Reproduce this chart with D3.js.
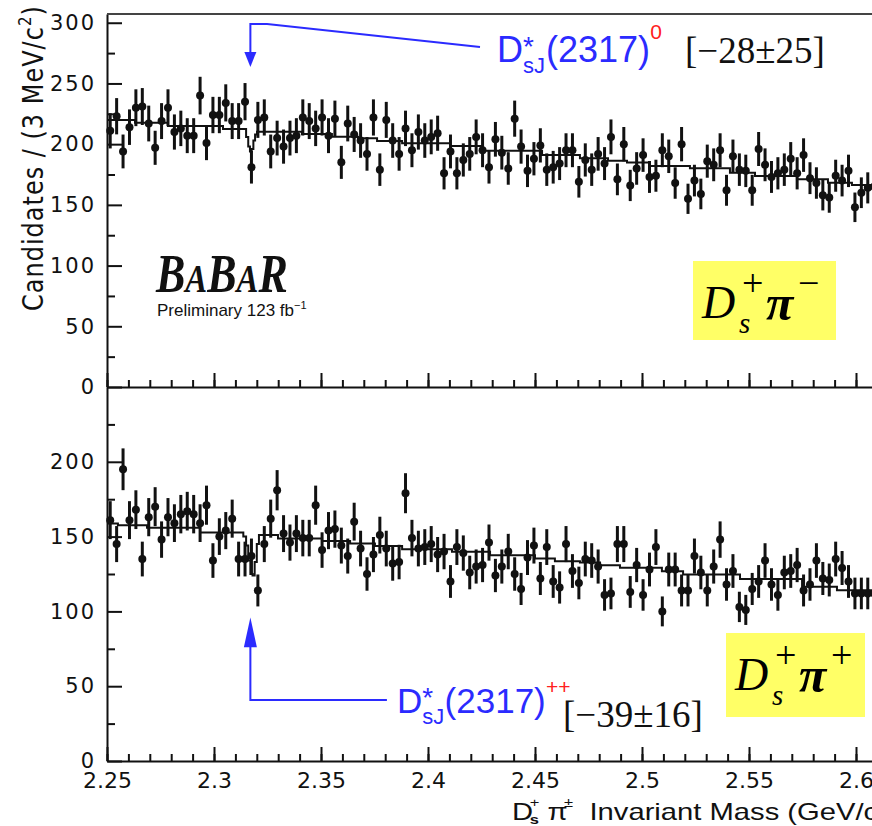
<!DOCTYPE html>
<html>
<head>
<meta charset="utf-8">
<script src="https://cdn.jsdelivr.net/npm/d3@7"></script>
<style>
  body { margin: 0; background: #fff; }
  svg { display: block; }
</style>
</head>
<body>
<svg id="chart" width="872" height="826"></svg>
<script>
// ---- data (3 MeV bins from 2.25 GeV) ----
const binLo = 2.25, binWidth = 0.003;

const topCounts = [
  211, 223, 194, 214, 230, 231, 217, 197, 219, 230,
  210, 213, 207, 207, 240, 201, 224, 224, 234, 219,
  219, 235, 181, 220, 222, 194, 205, 198, 205, 207,
  222, 219, 213, 222, 207, 221, 185, 217, 208, 203,
  192, 222, 179, 220, 203, 192, 213, 195, 210, 203,
  206, 209, 176, 194, 176, 187, 192, 206, 195, 181,
  204, 193, 180, 221, 198, 178, 188, 199, 179, 181,
  184, 195, 195, 169, 187, 179, 192, 184, 206, 171,
  200, 166, 180, 191, 173, 174, 195, 190, 168, 200,
  155, 170, 159, 186, 183, 195, 162, 190, 179, 178,
  162, 196, 183, 173, 176, 179, 188, 176, 191, 172,
  168, 158, 156, 174, 170, 178, 148, 160, 164, 165
];

const bottomCounts = [
  161, 145, 195, 161, 168, 135, 163, 170, 148, 163,
  159, 165, 167, 165, 159, 171, 134, 150, 154, 162,
  135, 135, 137, 114, 145, 162, 181, 152, 146, 152,
  149, 149, 171, 141, 154, 155, 144, 137, 160, 142,
  125, 138, 151, 142, 132, 133, 179, 149, 142, 143,
  145, 138, 140, 120, 143, 139, 126, 130, 131, 146,
  124, 130, 140, 125, 115, 136, 144, 122, 143, 120,
  116, 145, 127, 119, 135, 134, 130, 111, 112, 145,
  145, 113, 131, 111, 128, 143, 100, 128, 128, 114,
  114, 137, 126, 114, 130, 148, 118, 127, 103, 101,
  115, 120, 134, 118, 111, 126, 127, 131, 114, 118,
  134, 122, 121, 135, 129, 120, 112, 112, 112, 112
];

// fitted curve (drawn as steps, as in the original)
const topFitX = [2.25, 2.2631, 2.2785, 2.3042, 2.3150, 2.3160, 2.3168, 2.3176, 2.3184, 2.3192,
  2.3201, 2.3411, 2.3551, 2.3673, 2.3762, 2.3879, 2.4103, 2.4257, 2.4533, 2.4710,
  2.4841, 2.4930, 2.5037, 2.5224, 2.5411, 2.5528, 2.5724, 2.5869, 2.5981, 2.61];
const topFitY = [220, 217.7, 215, 212.5, 206, 198, 194, 196, 203, 208,
  210.3, 208.4, 206.2, 204.8, 202.6, 200.7, 198.5, 194.6, 191.1, 188.4,
  186.4, 184.8, 182, 180.1, 176.5, 173.8, 171.1, 168.3, 166.4, 166.4];

const botFitX = [2.25, 2.2551, 2.2687, 2.2935, 2.3137, 2.3150, 2.3160, 2.3170, 2.3180, 2.3190,
  2.3200, 2.3210, 2.3299, 2.3505, 2.3636, 2.3752, 2.3879, 2.4112, 2.4290, 2.4500,
  2.4593, 2.4710, 2.4804, 2.4897, 2.5093, 2.5192, 2.5458, 2.5748, 2.5911, 2.61];
const botFitY = [158.8, 157.6, 155.9, 152.7, 150, 144, 134, 125, 124, 133,
  145, 151, 148.8, 147, 145.4, 143.8, 141.6, 139.8, 137.6, 135.4,
  133.6, 132.7, 130.9, 129.1, 126.9, 124.7, 121.6, 116.4, 114.2, 114.2];

// ticks
const xMajor = [2.25, 2.3, 2.35, 2.4, 2.45, 2.5, 2.55, 2.6];
const xTickLabels = ["2.25", "2.3", "2.35", "2.4", "2.45", "2.5", "2.55", "2.6"];
const xMinor = d3.range(0, 37).map(i => 2.25 + i * 0.01);
const topYMajor = [0, 50, 100, 150, 200, 250, 300];
const topYMinor = [25, 75, 125, 175, 225, 275];
const botYMajor = [0, 50, 100, 150, 200];
const botYMinor = [25, 75, 125, 175, 225];

// ---- drawing ----
const svg = d3.select("#chart");
const blue = "#2b2bff", red = "#ff2020";

const x = d3.scaleLinear().domain([2.25, 2.61]).range([107, 877.4]);
const yTop = d3.scaleLinear().domain([0, 307.2]).range([387, 14]);
const yBot = d3.scaleLinear().domain([0, 250]).range([761, 387]);

function styleAxis(g, size, spacing) {
  g.select(".domain").attr("stroke", "#111").attr("stroke-width", 2);
  g.selectAll(".tick line").attr("stroke", "#111").attr("stroke-width", 2);
  g.selectAll("text").attr("font-family", "DejaVu Sans").attr("font-size", size)
    .attr("fill", "#111").attr("letter-spacing", spacing);
}

function drawPanel(counts, fitX, fitY, y, yMajor, yMinor, xLabels) {
  const baseY = y.range()[0];

  // y axis, ticks inside
  svg.append("g").attr("transform", "translate(107,0)")
    .call(d3.axisLeft(y).tickValues(yMinor).tickSize(-8).tickSizeOuter(0).tickFormat(""))
    .call(g => g.select(".domain").remove())
    .call(g => styleAxis(g, 21, 2));
  svg.append("g").attr("transform", "translate(107,0)")
    .call(d3.axisLeft(y).tickValues(yMajor).tickSize(-15).tickSizeOuter(0).tickPadding(11))
    .call(g => styleAxis(g, 21, 2));

  // x axis, ticks pointing up
  svg.append("g").attr("transform", `translate(0,${baseY})`)
    .call(d3.axisBottom(x).tickValues(xMinor).tickSize(-7).tickSizeOuter(0).tickFormat(""))
    .call(g => g.select(".domain").remove())
    .call(g => styleAxis(g, 22, 0));
  svg.append("g").attr("transform", `translate(0,${baseY})`)
    .call(d3.axisBottom(x).tickValues(xMajor).tickSize(-14).tickSizeOuter(0).tickPadding(11)
      .tickFormat((d, i) => xLabels ? xTickLabels[i] : ""))
    .call(g => styleAxis(g, 22, 0));

  // fit
  const fit = fitX.map((v, i) => [v, fitY[i]]);
  svg.append("path").datum(fit)
    .attr("fill", "none").attr("stroke", "#111").attr("stroke-width", 2)
    .attr("d", d3.line().x(d => x(d[0])).y(d => y(d[1])).curve(d3.curveStepAfter));

  // data points with errors
  const pts = svg.append("g").attr("fill", "#111").attr("stroke", "#111");
  const bins = counts.map((c, i) => ({ lo: binLo + i * binWidth, c }));
  pts.selectAll("line.ey").data(bins).join("line").attr("class", "ey")
    .attr("x1", d => x(d.lo + binWidth / 2)).attr("x2", d => x(d.lo + binWidth / 2))
    .attr("y1", d => y(d.c - Math.sqrt(d.c))).attr("y2", d => y(d.c + Math.sqrt(d.c)))
    .attr("stroke-width", 3);
  pts.selectAll("line.ex").data(bins).join("line").attr("class", "ex")
    .attr("x1", d => x(d.lo)).attr("x2", d => x(d.lo + binWidth))
    .attr("y1", d => y(d.c)).attr("y2", d => y(d.c))
    .attr("stroke-width", 2.5);
  pts.selectAll("circle").data(bins).join("circle")
    .attr("cx", d => x(d.lo + binWidth / 2)).attr("cy", d => y(d.c))
    .attr("r", 4).attr("stroke", "none");
}

drawPanel(topCounts, topFitX, topFitY, yTop, topYMajor, topYMinor, false);
drawPanel(bottomCounts, botFitX, botFitY, yBot, botYMajor, botYMinor, true);

// top frame
svg.append("line").attr("x1", 107).attr("x2", 878).attr("y1", 14).attr("y2", 14)
  .attr("stroke", "#444").attr("stroke-width", 2);

// axis titles
svg.append("text")
  .attr("transform", "translate(43,311) scale(1.2,1) rotate(-90)")
  .attr("font-family", "DejaVu Sans").attr("font-size", 24).attr("letter-spacing", 1)
  .attr("fill", "#111")
  .text("Candidates / (3 MeV/c")
  .append("tspan").attr("font-size", 15).attr("dy", -10).text("2")
  .clone().attr("font-size", 24).attr("dy", 10).text(")");

// x title is horizontally stretched in the original
const xt = svg.append("g").attr("transform", "translate(512,0) scale(1.27,1)")
  .attr("font-family", "Liberation Sans").attr("fill", "#111");
xt.append("text").attr("x", 0).attr("y", 820).attr("font-size", 23).text("D");
xt.append("text").attr("x", 14).attr("y", 807).attr("font-size", 13).text("+");
xt.append("text").attr("x", 14).attr("y", 824).attr("font-size", 13).attr("font-weight", "bold").text("s");
xt.append("text").attr("x", 28).attr("y", 820).attr("font-size", 23).text("π");
xt.append("text").attr("x", 41).attr("y", 807).attr("font-size", 13).text("±");
xt.append("text").attr("x", 61).attr("y", 820).attr("font-size", 23)
  .text("Invariant Mass (GeV/c")
  .append("tspan").attr("font-size", 14).attr("dy", -9).text("2")
  .clone().attr("font-size", 23).attr("dy", 9).text(")");

// BaBar logo
const logo = svg.append("text")
  .attr("transform", "translate(156,292) scale(0.8,1)")
  .attr("font-family", "Liberation Serif").attr("font-style", "italic").attr("font-weight", "bold")
  .attr("font-size", 55).attr("fill", "#111");
[["B", 55], ["A", 41], ["B", 55], ["A", 41], ["R", 55]].forEach(([t, s]) =>
  logo.append("tspan").attr("font-size", s).text(t));
svg.append("text").attr("x", 157).attr("y", 316)
  .attr("font-family", "Liberation Sans").attr("font-size", 17).attr("fill", "#111")
  .text("Preliminary 123 fb")
  .append("tspan").attr("font-size", 11).attr("dy", -7).text("−1");

// signal arrows
const sigX = 2.317;
const arrowLine = d3.line().x(d => x(d[0]));
svg.append("path")
  .attr("d", arrowLine.y(d => yTop(d[1]))([[2.4243, 280], [2.3248, 299], [sigX, 299], [sigX, 272]]))
  .attr("fill", "none").attr("stroke", blue).attr("stroke-width", 2);
svg.append("path")
  .attr("d", `M${x(sigX) - 6},${yTop(276)} L${x(sigX) + 6},${yTop(276)} L${x(sigX)},${yTop(263.5)} Z`)
  .attr("fill", blue);
svg.append("path")
  .attr("d", arrowLine.y(d => yBot(d[1]))([[2.3808, 40.7], [sigX, 40.7], [sigX, 80]]))
  .attr("fill", "none").attr("stroke", blue).attr("stroke-width", 2);
svg.append("path")
  .attr("d", `M${x(sigX) - 6.5},${yBot(76)} L${x(sigX) + 6.5},${yBot(76)} L${x(sigX)},${yBot(96)} Z`)
  .attr("fill", blue);

// state labels
function stateLabel(x0, base, size, charge, result, resX, resBase, chargeBase) {
  const g = svg.append("g").attr("font-family", "Liberation Sans").attr("fill", blue);
  g.append("text").attr("x", x0).attr("y", base).attr("font-size", size).text("D");
  g.append("text").attr("x", x0 + 0.72 * size).attr("y", base - 6).attr("font-size", 28).text("*");
  g.append("text").attr("x", x0 + 0.72 * size).attr("y", base + 11).attr("font-size", 22).text("sJ");
  g.append("text").attr("x", x0 + 1.36 * size).attr("y", base).attr("font-size", size).text("(2317)");
  g.append("text").attr("x", x0 + 4.26 * size).attr("y", chargeBase).attr("font-size", 21)
    .attr("fill", red).text(charge);
  svg.append("text").attr("x", resX).attr("y", resBase)
    .attr("font-family", "Liberation Serif").attr("font-size", 37).attr("fill", "#111")
    .text(result);
}
stateLabel(497, 62, 36, "0", "[−28±25]", 685, 63, 39);
stateLabel(397, 713, 35, "++", "[−39±16]", 563, 727, 694);

// channel boxes
function channelBox(bx, by, bw, bh, charge) {
  const g = svg.append("g").attr("font-family", "Liberation Serif").attr("fill", "#000");
  g.append("rect").attr("x", bx).attr("y", by).attr("width", bw).attr("height", bh).attr("fill", "#ffff66");
  g.append("text").attr("x", bx + 9).attr("y", by + 57).attr("font-size", 46).attr("font-style", "italic").text("D");
  g.append("text").attr("x", bx + 49).attr("y", by + 35).attr("font-size", 38).text("+");
  g.append("text").attr("x", bx + 46).attr("y", by + 72).attr("font-size", 29).attr("font-style", "italic").text("s");
  g.append("text").attr("x", bx + 73).attr("y", by + 59).attr("font-size", 50)
    .attr("font-style", "italic").attr("font-weight", "bold").text("π");
  g.append("text").attr("x", bx + 105).attr("y", by + 35).attr("font-size", 38).text(charge);
}
channelBox(693, 261, 143, 79, "−");
channelBox(726, 633, 139, 84, "+");
</script>
</body>
</html>
